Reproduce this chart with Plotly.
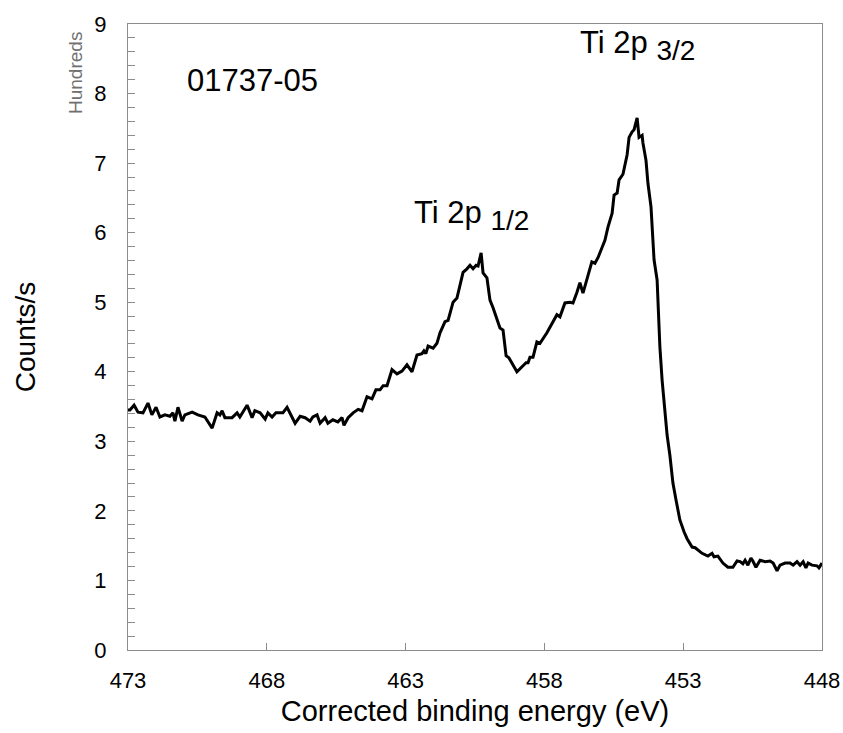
import plotly.graph_objects as go

# Corrected binding energy (eV)
energy = [
    473.00, 472.93, 472.78, 472.64, 472.46, 472.28, 472.14, 471.99, 471.85, 471.67,
    471.49, 471.38, 471.31, 471.20, 471.05, 470.95, 470.69, 470.48, 470.23, 469.97,
    469.79, 469.69, 469.61, 469.51, 469.25, 469.07, 468.97, 468.71, 468.53, 468.43,
    468.24, 468.06, 467.96, 467.81, 467.67, 467.42, 467.27, 467.13, 466.98, 466.80,
    466.62, 466.44, 466.34, 466.19, 466.08, 465.90, 465.80, 465.62, 465.44, 465.29,
    465.22, 465.07, 464.89, 464.71, 464.57, 464.39, 464.21, 464.07, 463.92, 463.81,
    463.67, 463.49, 463.31, 463.13, 462.95, 462.77, 462.59, 462.41, 462.34, 462.27,
    462.19, 462.01, 461.87, 461.76, 461.58, 461.47, 461.29, 461.15, 460.93, 460.79,
    460.68, 460.57, 460.46, 460.39, 460.28, 460.21, 460.07, 459.96, 459.85, 459.60,
    459.49, 459.38, 459.28, 458.99, 458.81, 458.66, 458.59, 458.52, 458.41, 458.27,
    458.16, 457.91, 457.69, 457.55, 457.44, 457.26, 457.08, 456.97, 456.83, 456.72,
    456.61, 456.29, 456.18, 456.07, 455.92, 455.82, 455.71, 455.56, 455.49, 455.38,
    455.31, 455.17, 455.02, 454.95, 454.84, 454.77, 454.66, 454.59, 454.48, 454.45,
    454.34, 454.27, 454.16, 454.09, 454.05, 453.94, 453.91, 453.84, 453.76, 453.66,
    453.58, 453.48, 453.37, 453.26, 453.12, 452.97, 452.86, 452.68, 452.57, 452.32,
    452.11, 451.96, 451.89, 451.75, 451.57, 451.39, 451.21, 451.06, 450.95, 450.85,
    450.77, 450.67, 450.56, 450.49, 450.38, 450.23, 450.05, 449.87, 449.76, 449.62,
    449.51, 449.33, 449.15, 449.04, 448.90, 448.79, 448.68, 448.58, 448.50, 448.36,
    448.18, 448.11, 448.00,
]

# Counts/s (hundreds)
counts = [
    3.45, 3.45, 3.52, 3.42, 3.41, 3.55, 3.38, 3.49, 3.35, 3.38,
    3.36, 3.41, 3.29, 3.49, 3.29, 3.38, 3.42, 3.38, 3.35, 3.19,
    3.41, 3.38, 3.44, 3.34, 3.34, 3.41, 3.35, 3.52, 3.34, 3.44,
    3.41, 3.32, 3.41, 3.35, 3.41, 3.41, 3.49, 3.38, 3.26, 3.36,
    3.34, 3.29, 3.35, 3.38, 3.26, 3.34, 3.26, 3.31, 3.28, 3.34,
    3.23, 3.34, 3.41, 3.46, 3.44, 3.64, 3.61, 3.74, 3.74, 3.80,
    3.80, 4.03, 3.97, 4.01, 4.10, 4.00, 4.24, 4.26, 4.30, 4.26,
    4.37, 4.34, 4.41, 4.56, 4.72, 4.74, 5.00, 5.06, 5.43, 5.48,
    5.53, 5.48, 5.53, 5.52, 5.71, 5.42, 5.35, 5.03, 4.92, 4.63,
    4.60, 4.23, 4.20, 4.00, 4.07, 4.13, 4.13, 4.21, 4.21, 4.43,
    4.41, 4.56, 4.72, 4.82, 4.79, 4.99, 5.00, 4.99, 5.14, 5.28,
    5.13, 5.58, 5.56, 5.64, 5.79, 5.89, 6.08, 6.28, 6.54, 6.57,
    6.76, 6.84, 7.12, 7.37, 7.45, 7.48, 7.65, 7.37, 7.40, 7.29,
    7.04, 6.71, 6.37, 5.89, 5.61, 5.32, 5.03, 4.36, 3.88, 3.41,
    3.09, 2.80, 2.40, 2.16, 1.87, 1.70, 1.60, 1.48, 1.47, 1.39,
    1.35, 1.39, 1.34, 1.35, 1.25, 1.19, 1.19, 1.28, 1.27, 1.24,
    1.29, 1.22, 1.32, 1.28, 1.19, 1.29, 1.27, 1.28, 1.25, 1.14,
    1.22, 1.25, 1.25, 1.22, 1.27, 1.22, 1.27, 1.18, 1.25, 1.22,
    1.21, 1.18, 1.25,
]

x_ticks = [473, 468, 463, 458, 453, 448]
y_ticks = [0, 1, 2, 3, 4, 5, 6, 7, 8, 9]

FONT = "Liberation Sans, Arial, sans-serif"
AXIS_GRAY = "#8c8c8c"

fig = go.Figure()
fig.add_trace(go.Scatter(
    x=energy, y=counts, mode="lines",
    line=dict(color="black", width=3),
    showlegend=False, hoverinfo="skip",
))

fig.update_layout(
    template="none",
    width=843, height=733,
    margin=dict(l=128, r=21, t=24, b=83, pad=0),
    paper_bgcolor="white", plot_bgcolor="white",
    font=dict(family=FONT, color="black"),
    xaxis=dict(
        range=[473, 448], tickvals=x_ticks, ticktext=[str(v) for v in x_ticks],
        ticks="inside", ticklen=7, tickcolor=AXIS_GRAY, tickwidth=1,
        showline=True, linecolor=AXIS_GRAY, linewidth=1, mirror=True,
        showgrid=False, zeroline=False, automargin=False,
        tickfont=dict(size=22, family=FONT, color="black"),
        ticklabelstandoff=11,
        title=dict(text="Corrected binding energy (eV)",
                   font=dict(size=29, family=FONT, color="black"), standoff=8),
    ),
    yaxis=dict(
        range=[0, 9], tickvals=y_ticks, ticktext=[str(v) for v in y_ticks],
        ticks="inside", ticklen=7, tickcolor=AXIS_GRAY, tickwidth=1,
        minor=dict(dtick=0.2, ticks="inside", ticklen=7, tickcolor=AXIS_GRAY, tickwidth=1),
        showline=True, linecolor=AXIS_GRAY, linewidth=1, mirror=True,
        showgrid=False, zeroline=False, automargin=False,
        tickfont=dict(size=22, family=FONT, color="black"),
        ticklabelstandoff=16,
        title=dict(text="Counts/s",
                   font=dict(size=28, family=FONT, color="black"), standoff=50),
    ),
    annotations=[
        dict(x=-0.0764, y=0.9217, xref="paper", yref="paper",
             xanchor="center", yanchor="middle",
             text="Hundreds", textangle=-90, showarrow=False,
             font=dict(size=19, family=FONT, color="#707070")),
        dict(x=468.5, y=8.19, xref="x", yref="y", text="01737-05",
             xanchor="center", yanchor="middle",
             showarrow=False, font=dict(size=31, family=FONT, color="black")),
        dict(x=454.63, y=8.69, xref="x", yref="y",
             text="Ti 2p <sub><span style='font-size:28px'>3/2</span></sub>",
             xanchor="center", yanchor="middle",
             showarrow=False, font=dict(size=31, family=FONT, color="black")),
        dict(x=460.64, y=6.25, xref="x", yref="y",
             text="Ti 2p <sub><span style='font-size:28px'>1/2</span></sub>",
             xanchor="center", yanchor="middle",
             showarrow=False, font=dict(size=31, family=FONT, color="black")),
    ],
)

fig.write_html(
    "out.html",
    config={"displayModeBar": False, "staticPlot": True},
    post_script="document.body.style.margin='0';document.body.style.overflow='hidden';",
)
